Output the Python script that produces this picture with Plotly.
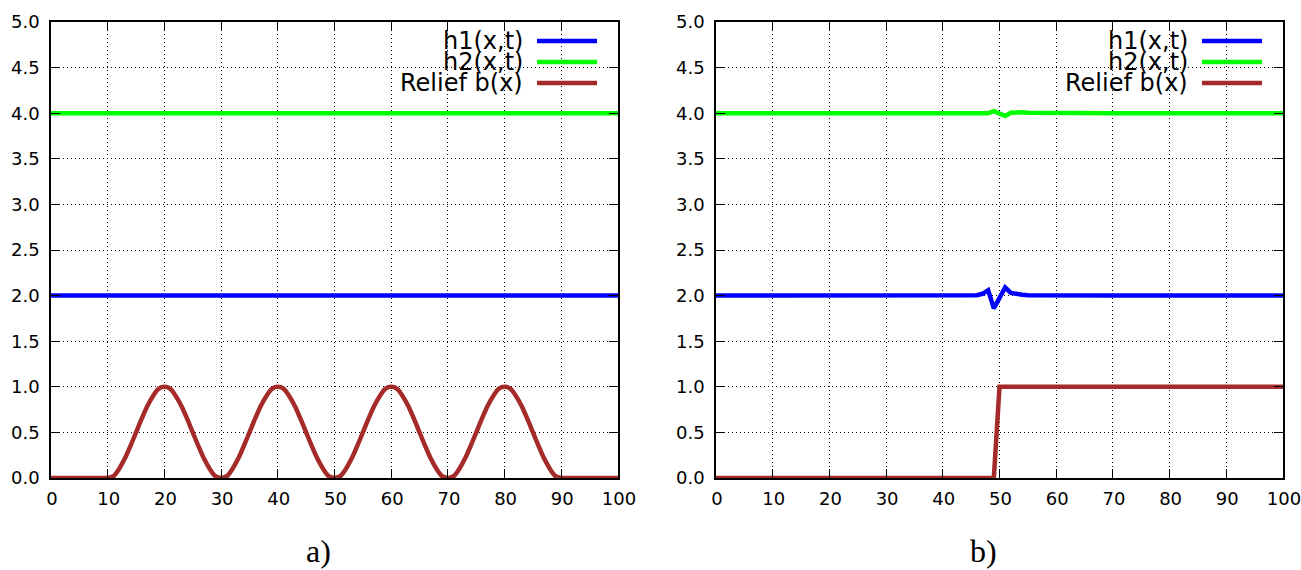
import plotly.graph_objects as go

# ---------------- data ----------------
# panel a)
x_a = list(range(0, 101))
relief_a = [
    0.00, 0.00, 0.00, 0.00, 0.00, 0.00, 0.00, 0.00, 0.00, 0.00,  # 0-9
    0.00, 0.02, 0.10, 0.21, 0.35, 0.50, 0.65, 0.79, 0.90, 0.98,  # 10-19
    1.00, 0.98, 0.90, 0.79, 0.65, 0.50, 0.35, 0.21, 0.10, 0.02,  # 20-29
    0.00, 0.02, 0.10, 0.21, 0.35, 0.50, 0.65, 0.79, 0.90, 0.98,  # 30-39
    1.00, 0.98, 0.90, 0.79, 0.65, 0.50, 0.35, 0.21, 0.10, 0.02,  # 40-49
    0.00, 0.02, 0.10, 0.21, 0.35, 0.50, 0.65, 0.79, 0.90, 0.98,  # 50-59
    1.00, 0.98, 0.90, 0.79, 0.65, 0.50, 0.35, 0.21, 0.10, 0.02,  # 60-69
    0.00, 0.02, 0.10, 0.21, 0.35, 0.50, 0.65, 0.79, 0.90, 0.98,  # 70-79
    1.00, 0.98, 0.90, 0.79, 0.65, 0.50, 0.35, 0.21, 0.10, 0.02,  # 80-89
    0.00, 0.00, 0.00, 0.00, 0.00, 0.00, 0.00, 0.00, 0.00, 0.00,  # 90-99
    0.00,                                                          # 100
]
xh_a = [0, 25, 50, 75, 100]
h1_a = [2.0, 2.0, 2.0, 2.0, 2.0]
h2_a = [4.0, 4.0, 4.0, 4.0, 4.0]

# panel b)
x_b = [0, 10, 20, 30, 40, 45, 46, 47, 48, 49, 50, 51, 52, 53, 54, 55, 60, 70, 80, 90, 100]
h1_b = [2.0, 2.0, 2.0, 2.0, 2.0, 2.0, 2.005, 2.02, 2.06, 1.86, 1.97, 2.09, 2.03, 2.015, 2.01, 2.005,
        2.0, 2.0, 2.0, 2.0, 2.0]
h2_b = [4.0, 4.0, 4.0, 4.0, 4.0, 4.0, 4.0, 3.995, 4.0, 4.022, 4.0, 3.97, 4.005, 4.01, 4.01, 4.005,
        4.0, 4.0, 4.0, 4.0, 4.0]
xr_b = [0, 49, 50, 100]
relief_b = [0.0, 0.0, 1.0, 1.0]

x_ticks = [0, 10, 20, 30, 40, 50, 60, 70, 80, 90, 100]
y_ticks = [0.0, 0.5, 1.0, 1.5, 2.0, 2.5, 3.0, 3.5, 4.0, 4.5, 5.0]
y_ticktext = ["%.1f" % v for v in y_ticks]

legend_names = ["h1(x,t)", "h2(x,t)", "Relief b(x)"]
colors = ["#0000ff", "#00ff00", "#a52a2a"]
captions = ["a)", "b)"]

# ---------------- figure ----------------
W, H = 1301, 570
FONT = "DejaVu Sans"
fig = go.Figure()


def fx(px):
    return px / W


def fy(py):
    return 1 - py / H


panels = [
    dict(xa="x", ya="y", series=[(xh_a, h1_a), (xh_a, h2_a), (x_a, relief_a)],
         shapes=["linear", "linear", "spline"]),
    dict(xa="x2", ya="y2", series=[(x_b, h1_b), (x_b, h2_b), (xr_b, relief_b)],
         shapes=["linear", "linear", "linear"]),
]
for p in panels:
    for (xs, ys), name, col, shp in zip(p["series"], legend_names, colors, p["shapes"]):
        fig.add_trace(go.Scatter(x=xs, y=ys, mode="lines", name=name,
                                 line=dict(color=col, width=4.5, shape=shp),
                                 xaxis=p["xa"], yaxis=p["ya"],
                                 cliponaxis=False, showlegend=False))

px_dom = [(51, 618), (716, 1283)]
y_dom = [fy(478), fy(22)]

axis_common = dict(
    showline=True, linecolor="black", linewidth=1.5, mirror="ticks",
    ticks="inside", ticklen=9, tickcolor="black", tickwidth=1,
    showgrid=True, gridcolor="black", gridwidth=1, griddash="1px,3px",
    zeroline=False, automargin=False, ticklabeloverflow="allow",
    tickfont=dict(family=FONT, size=18, color="black"),
)
for i, (a, b) in enumerate(px_dom):
    sfx = "" if i == 0 else str(i + 1)
    fig.layout["xaxis" + sfx] = dict(
        axis_common, domain=[fx(a), fx(b)], range=[0, 100],
        tickvals=x_ticks, anchor="y" + sfx, ticklabelshift=1,
        ticklabelstandoff=4,
    )
    fig.layout["yaxis" + sfx] = dict(
        axis_common, domain=list(y_dom), range=[0, 5],
        tickvals=y_ticks, ticktext=y_ticktext, anchor="x" + sfx,
        ticklabelstandoff=6,
    )

# legend drawn as text + line samples at top-right of each panel
row_y = [41, 62, 83]
for i, (a, b) in enumerate(px_dom):
    for name, col, ry in zip(legend_names, colors, row_y):
        fig.add_annotation(
            x=fx(b - 93), y=fy(ry), xref="paper", yref="paper",
            text=name, showarrow=False, xanchor="right", yanchor="middle",
            font=dict(family=FONT, size=24, color="black"),
        )
        fig.add_shape(
            type="line", xref="paper", yref="paper",
            x0=fx(b - 81), x1=fx(b - 21), y0=fy(ry), y1=fy(ry),
            line=dict(color=col, width=4.5),
        )
    fig.add_annotation(
        x=fx((a + b) / 2 - 16), y=fy(551), xref="paper", yref="paper",
        text=captions[i], showarrow=False, xanchor="center", yanchor="middle",
        font=dict(family="Liberation Serif", size=32, color="black"),
    )

fig.update_layout(
    width=W, height=H,
    margin=dict(l=0, r=0, t=0, b=0),
    paper_bgcolor="white", plot_bgcolor="white",
    showlegend=False,
)

fig.write_html(
    "out.html",
    config={"displayModeBar": False},
    post_script="document.body.style.margin='0';document.body.style.overflow='hidden';",
)
